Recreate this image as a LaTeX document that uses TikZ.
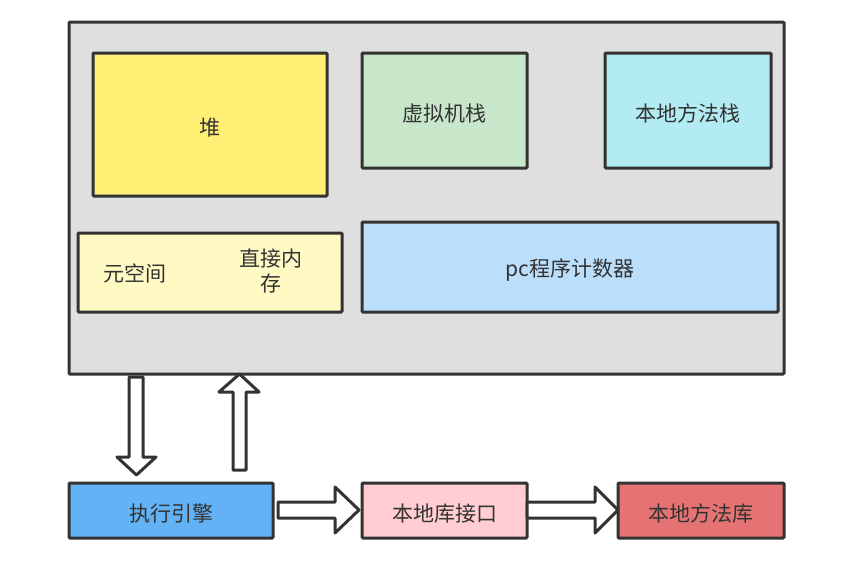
\documentclass[tikz,border=0pt]{standalone}
\usepackage{fontspec}
\setmainfont{Noto Sans CJK SC}
\usepackage{tikz}
\definecolor{EdgeGray}{HTML}{333333}
\definecolor{JvmGray}{HTML}{DFDFDF}
\definecolor{HeapYellow}{HTML}{FFEF75}
\definecolor{MetaYellow}{HTML}{FFF9C4}
\definecolor{StackGreen}{HTML}{C8E6C9}
\definecolor{NativeCyan}{HTML}{B2EBF2}
\definecolor{PcBlue}{HTML}{BBDEFB}
\definecolor{EngineBlue}{HTML}{62B2F5}
\definecolor{LibPink}{HTML}{FFCDD2}
\definecolor{LibRed}{HTML}{E57373}

\begin{document}
\begin{tikzpicture}[x=1pt,y=-1pt,font=\fontsize{21}{25}\selectfont,text=EdgeGray]
\tikzstyle{area}=[draw=EdgeGray,line width=3pt,rounded corners=1pt]
\tikzstyle{lbl}=[midway,yshift=-3pt]
\tikzstyle{fat}=[draw=EdgeGray,line width=3pt,fill=white,line join=round]
\useasboundingbox (0,0) rectangle (841,562);
% runtime data area
\draw[area,fill=JvmGray] (69,22) rectangle (784,374);
\draw[area,fill=HeapYellow] (93,53) rectangle (327,196) node[lbl] (heap) {堆};
\draw[area,fill=StackGreen] (362,53) rectangle (527,168) node[lbl] (vms) {虚拟机栈};
\draw[area,fill=NativeCyan] (605,53) rectangle (771,168) node[lbl] (nms) {本地方法栈};
\draw[area,fill=MetaYellow] (78,233) rectangle (342,312);
\node (meta) at (135,273) {元空间};
\node[align=center] (direct) at (271,271) {直接内\\存};
\draw[area,fill=PcBlue] (362,222) rectangle (778,312) node[lbl] (pc) {pc程序计数器};
% execution side
\draw[area,fill=EngineBlue] (69,483) rectangle (273,538) node[lbl] (engine) {执行引擎};
\draw[area,fill=LibPink] (362,483) rectangle (527,538) node[lbl] (nif) {本地库接口};
\draw[area,fill=LibRed] (618,483) rectangle (784,538) node[lbl] (nlib) {本地方法库};
% block arrows
\draw[fat] (129,377) -- (143,377) -- (143,457) -- (156,457) -- (136.5,475)
  -- (117,457) -- (129,457) -- cycle;
\draw[fat] (233,470) -- (246,470) -- (246,392) -- (259,392) -- (239.5,374)
  -- (219,392) -- (233,392) -- cycle;
\draw[fat] (278,502) -- (335,502) -- (335,487) -- (359,510) -- (335,533)
  -- (335,518) -- (278,518) -- cycle;
\draw[fat] (527,502) -- (595,502) -- (595,487) -- (618,510) -- (595,533)
  -- (595,518) -- (527,518) -- cycle;
\end{tikzpicture}
\end{document}
